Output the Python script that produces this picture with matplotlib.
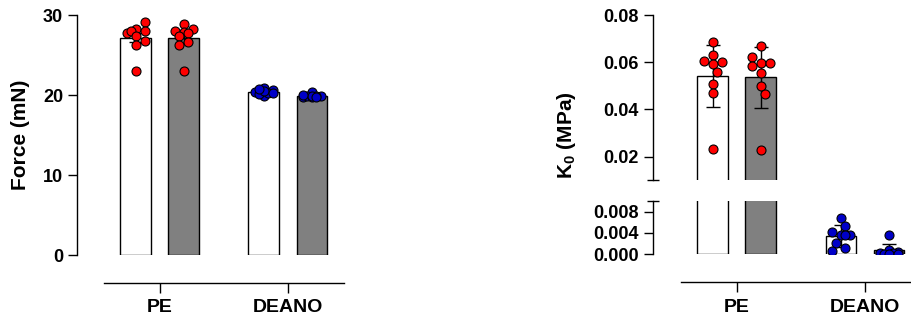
import numpy as np
import matplotlib
matplotlib.use('Agg')
import matplotlib.pyplot as plt
from matplotlib.ticker import FormatStrFormatter

plt.rcParams['font.family'] = ['Liberation Sans', 'DejaVu Sans']
plt.rcParams['font.weight'] = 'bold'
plt.rcParams['axes.labelweight'] = 'bold'
plt.rcParams['mathtext.fontset'] = 'custom'
plt.rcParams['mathtext.bf'] = 'Liberation Sans:bold'
plt.rcParams['mathtext.rm'] = 'Liberation Sans:bold'

groups = ['PE', 'DEANO']

# Force (mN) - open bars / grey bars
force_pe_open = [28.3, 29.1, 28.0, 27.8, 28.0, 27.4, 26.7, 26.2, 23.0]
force_pe_grey = [28.9, 28.3, 28.0, 27.9, 27.8, 27.4, 26.6, 26.2, 23.0]
force_deano_open = [20.9, 20.6, 20.4, 19.9, 20.3, 20.1, 20.5, 20.7, 20.2]
force_deano_grey = [20.4, 19.9, 19.8, 19.9, 19.9, 19.8, 19.9, 20.0, 19.8]

# K0 (MPa)
k0_pe_open = [0.0684, 0.0631, 0.0592, 0.0602, 0.0605, 0.0557, 0.0506, 0.0468, 0.0231]
k0_pe_grey = [0.0669, 0.0598, 0.0598, 0.0624, 0.0584, 0.0553, 0.0499, 0.0465, 0.0227]
k0_deano_open = [0.0069, 0.0053, 0.0036, 0.0036, 0.0042, 0.0036, 0.0021, 0.0011, 0.0006]
k0_deano_grey = [0.0037, 0.0009, 0.0005, 0.0003, 0.0002, 0.0001, 0.0001, 0.0000]

RED = '#ff0000'
BLUE = '#0000c8'
GREY = '#808080'
OFF = 0.1875
BW = 0.242
DOT = 9     # marker diameter in px, used for the swarm
HALF = 13   # max sideways spread of the swarm, px


def swarm(ax, xc, vals):
    # simple beeswarm in display pixels, kept narrow like Prism does
    pts = ax.transData.transform([(xc, v) for v in vals])
    x0 = pts[0, 0]
    cands = [0.0]
    k = 1
    while k * DOT / 2 <= HALF:
        cands += [k * DOT / 2, -k * DOT / 2]
        k += 1
    placed = []
    xs = []
    for px, py in pts:
        best, best_d = 0.0, -1
        for c in cands:
            dmin = min([np.hypot(c - qx, py - qy) for qx, qy in placed] + [1e9])
            if dmin >= 0.95 * DOT:
                best = c
                break
            if dmin > best_d:
                best, best_d = c, dmin
        placed.append((best, py))
        xs.append(x0 + best)
    inv = ax.transData.inverted()
    return inv.transform(np.column_stack([xs, pts[:, 1]]))[:, 0]


def draw_group(axes, xc, vals, face, dotcol, err='sd', pick=0):
    vals = np.array(vals)
    m = vals.mean()
    e = vals.std(ddof=1)
    if err == 'sem':
        e = e / np.sqrt(len(vals))
    xs = swarm(axes[pick], xc, vals)
    for ax in axes:
        ax.bar(xc, m, width=BW, color=face, edgecolor='black', linewidth=1.0, zorder=2)
        ax.errorbar(xc, m, yerr=e, fmt='none', ecolor='black', elinewidth=1.0,
                    capsize=5, capthick=1.0, zorder=3)
        ax.scatter(xs, vals, s=42, color=dotcol, edgecolor='black', linewidth=0.8, zorder=4)


fig = plt.figure(figsize=(9.12, 3.2), dpi=100)
W, H = 912.0, 320.0

# ---------- left panel: force ----------
ax1 = fig.add_axes([77 / W, (H - 255) / H, 267 / W, 240 / H])
ax1.set_xlim(-0.648, 1.4375)
ax1.set_ylim(0, 30)
draw_group([ax1], 0 - OFF, force_pe_open, 'white', RED, 'sem')
draw_group([ax1], 0 + OFF, force_pe_grey, GREY, RED, 'sem')
draw_group([ax1], 1 - OFF, force_deano_open, 'white', BLUE, 'sem')
draw_group([ax1], 1 + OFF, force_deano_grey, GREY, BLUE, 'sem')
for c in ax1.collections:
    c.set_clip_on(False)
ax1.set_yticks([0, 10, 20, 30])
ax1.set_xticks([0, 1])
ax1.set_xticklabels(groups)
fig.text(21 / W, (H - 135) / H, 'Force (mN)', rotation=90, ha='center', va='center',
         fontsize=15, fontweight='bold')

# ---------- right panel: K0 with broken axis ----------
top_px, brk_top, brk_bot, zero_px = 15.0, 180.2, 201.0, 254.3
ax2 = fig.add_axes([653 / W, (H - brk_top) / H, 268 / W, (brk_top - top_px) / H])
ax3 = fig.add_axes([653 / W, (H - zero_px) / H, 268 / W, (zero_px - brk_bot) / H])
for ax in (ax2, ax3):
    ax.set_xlim(-0.656, 1.4375)
ax2.set_ylim(0.01, 0.08)
ax3.set_ylim(0, 0.01)
draw_group([ax2, ax3], 0 - OFF, k0_pe_open, 'white', RED, 'sd', pick=0)
draw_group([ax2, ax3], 0 + OFF, k0_pe_grey, GREY, RED, 'sd', pick=0)
draw_group([ax2, ax3], 1 - OFF, k0_deano_open, 'white', BLUE, 'sd', pick=1)
draw_group([ax2, ax3], 1 + OFF, k0_deano_grey, GREY, BLUE, 'sd', pick=1)

ax2.set_yticks([0.02, 0.04, 0.06, 0.08])
ax2.yaxis.set_major_formatter(FormatStrFormatter('%.2f'))
ax3.set_yticks([0.0, 0.004, 0.008])
ax3.yaxis.set_major_formatter(FormatStrFormatter('%.3f'))
ax2.set_xticks([])
ax2.spines['bottom'].set_visible(False)
ax3.set_xticks([0, 1])
ax3.set_xticklabels(groups)
for ax in (ax2, ax3):
    ax.set_yticks([0.01], minor=True)
    ax.tick_params(axis='y', which='minor', direction='inout', length=9, width=1.0)
fig.text(567 / W, (H - 135) / H, r'$\mathbf{K_0}$ (MPa)', rotation=90, ha='center',
         va='center', fontsize=15, fontweight='bold')

# Prism-like axes
for ax in (ax1, ax2, ax3):
    ax.spines['top'].set_visible(False)
    ax.spines['right'].set_visible(False)
    ax.spines['left'].set_linewidth(1.0)
    ax.tick_params(axis='y', which='major', direction='out', length=6.5, width=1.0,
                   pad=3.5, labelsize=13)
for ax in (ax1, ax3):
    ax.spines['bottom'].set_position(('outward', 20))
    ax.spines['bottom'].set_bounds(-0.4375, 1.4375)
    ax.spines['bottom'].set_linewidth(1.0)
    ax.tick_params(axis='x', direction='out', length=7, width=1.0, pad=5, labelsize=14)

fig.savefig('out.png', dpi=100)
